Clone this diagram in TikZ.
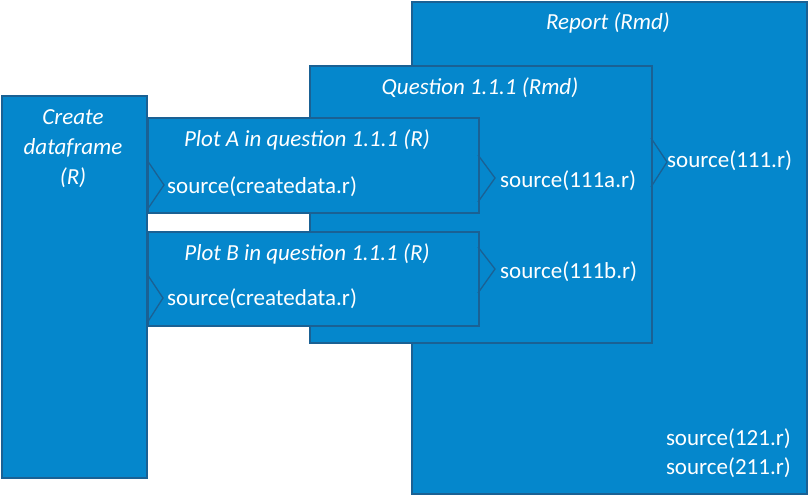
\documentclass[tikz,border=0pt]{standalone}
\usepackage{fontspec}
\setmainfont{Carlito}
\definecolor{boxfill}{HTML}{0587CC}
\definecolor{boxline}{HTML}{1A6194}
\begin{document}
\begin{tikzpicture}[x=1pt,y=-1pt,
  box/.style={draw=boxline, fill=boxfill, line width=1.8pt, anchor=north west, inner sep=0pt},
  chev/.style={draw=boxline, line width=1.3pt, line join=miter},
  ttl/.style={text=white, font=\fontsize{23}{30}\selectfont\itshape, inner sep=0pt},
  src/.style={text=white, font=\fontsize{23}{29}\selectfont, inner sep=0pt}]
\useasboundingbox (0,0) rectangle (808,495);
\node[box, minimum width=395pt, minimum height=492pt] (report) at (411,1) {};
\node[box, minimum width=342pt, minimum height=277pt] (question) at (309,65) {};
\node[box, minimum width=145pt, minimum height=382pt] (create) at (1,95) {};
\node[box, minimum width=331pt, minimum height=95pt] (plota) at (147,117) {};
\node[box, minimum width=331pt, minimum height=94pt] (plotb) at (147,231) {};
% chevrons
\draw[chev] (147,160) -- (164,185) -- (147,210);
\draw[chev] (147,274) -- (163,298) -- (147,323);
\draw[chev] (478,155) -- (495,178) -- (478,202);
\draw[chev] (478,247) -- (495,269) -- (478,293);
\draw[chev] (651,138) -- (667,162) -- (651,187);
% titles
\node[ttl, align=center] (tcreate) at (73,149) {Create\\dataframe\\(R)};
\node[ttl] (tplota) at (307,140) {Plot A in question 1.1.1 (R)};
\node[ttl] (tplotb) at (307,254) {Plot B in question 1.1.1 (R)};
\node[ttl] (tquestion) at (480,88) {Question 1.1.1 (Rmd)};
\node[ttl] (treport) at (608,23) {Report (Rmd)};
% sources
\node[src, anchor=west] (sa) at (167,187) {source(createdata.r)};
\node[src, anchor=west] (sb) at (167,299) {source(createdata.r)};
\node[src, anchor=west] (s111a) at (500,181) {source(111a.r)};
\node[src, anchor=west] (s111b) at (500,272) {source(111b.r)};
\node[src, anchor=west] (s111) at (667,161) {source(111.r)};
\node[src, anchor=east] (s121) at (791,439) {source(121.r)};
\node[src, anchor=east] (s211) at (791,468) {source(211.r)};
\end{tikzpicture}
\end{document}
